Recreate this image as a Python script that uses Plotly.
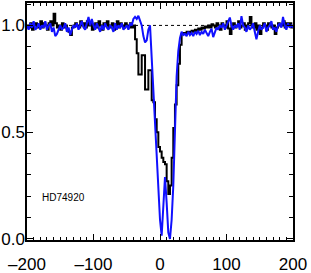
import plotly.graph_objects as go

# velocity grid (km/s), 2.5 km/s bins
velocity = [
    -200.0, -197.5, -195.0, -192.5, -190.0, -187.5, -185.0, -182.5, -180.0, -177.5,
    -175.0, -172.5, -170.0, -167.5, -165.0, -162.5, -160.0, -157.5, -155.0, -152.5,
    -150.0, -147.5, -145.0, -142.5, -140.0, -137.5, -135.0, -132.5, -130.0, -127.5,
    -125.0, -122.5, -120.0, -117.5, -115.0, -112.5, -110.0, -107.5, -105.0, -102.5,
    -100.0, -97.5, -95.0, -92.5, -90.0, -87.5, -85.0, -82.5, -80.0, -77.5,
    -75.0, -72.5, -70.0, -67.5, -65.0, -62.5, -60.0, -57.5, -55.0, -52.5,
    -50.0, -47.5, -45.0, -42.5, -40.0, -37.5, -35.0, -32.5, -30.0, -27.5,
    -25.0, -22.5, -20.0, -17.5, -15.0, -12.5, -10.0, -7.5, -5.0, -2.5,
    0.0, 2.5, 5.0, 7.5, 10.0, 12.5, 15.0, 17.5, 20.0, 22.5,
    25.0, 27.5, 30.0, 32.5, 35.0, 37.5, 40.0, 42.5, 45.0, 47.5,
    50.0, 52.5, 55.0, 57.5, 60.0, 62.5, 65.0, 67.5, 70.0, 72.5,
    75.0, 77.5, 80.0, 82.5, 85.0, 87.5, 90.0, 92.5, 95.0, 97.5,
    100.0, 102.5, 105.0, 107.5, 110.0, 112.5, 115.0, 117.5, 120.0, 122.5,
    125.0, 127.5, 130.0, 132.5, 135.0, 137.5, 140.0, 142.5, 145.0, 147.5,
    150.0, 152.5, 155.0, 157.5, 160.0, 162.5, 165.0, 167.5, 170.0, 172.5,
    175.0, 177.5, 180.0, 182.5, 185.0, 187.5, 190.0, 192.5, 195.0, 197.5,
    200.0,
]

# black (histogram-style) spectrum
flux_black = [
    1.00, 0.99, 1.01, 0.98, 1.00, 1.01, 0.99, 1.00, 1.02, 0.99,
    1.01, 1.00, 0.98, 1.01, 1.02, 1.00, 1.055, 1.01, 0.99, 1.00,
    0.98, 1.01, 0.99, 1.00, 0.98, 0.97, 0.955, 0.99, 1.00, 1.01,
    1.00, 0.99, 1.02, 1.00, 1.01, 0.99, 1.02, 1.00, 1.01, 0.98,
    1.00, 1.01, 0.99, 1.02, 1.00, 0.98, 1.01, 1.00, 1.02, 0.99,
    1.00, 1.01, 0.98, 1.00, 1.02, 0.99, 1.01, 1.00, 0.99, 1.01,
    1.00, 0.99, 1.01, 0.99, 1.00, 0.935, 0.87, 0.77, 0.77, 0.86,
    0.86, 0.70, 0.70, 0.79, 0.79, 0.65, 0.64, 0.56, 0.50, 0.43,
    0.41, 0.38, 0.36, 0.35, 0.27, 0.21, 0.25, 0.38, 0.52, 0.63,
    0.72, 0.82, 0.91, 0.96, 0.965, 0.965, 0.97, 0.965, 0.97, 0.975,
    0.97, 0.98, 0.975, 0.985, 0.98, 0.99, 0.985, 0.995, 0.99, 1.00,
    0.99, 1.005, 1.00, 0.99, 1.01, 1.00, 0.98, 1.01, 1.00, 0.99,
    1.02, 0.985, 0.96, 1.00, 1.01, 0.99, 1.00, 1.02, 0.99, 1.00,
    1.01, 0.98, 1.00, 1.01, 1.04, 1.00, 0.99, 1.01, 0.98, 1.00,
    0.96, 0.99, 1.01, 1.00, 0.98, 1.01, 1.00, 0.99, 1.00, 0.96,
    0.99, 1.01, 1.00, 1.00, 1.02, 0.99, 1.01, 1.00, 1.01, 0.99,
    1.00,
]

# blue spectrum
flux_blue = [
    1.00, 0.98, 1.01, 0.99, 1.02, 0.98, 0.99, 1.01, 0.98, 1.00,
    0.99, 1.02, 0.98, 1.00, 1.01, 0.97, 0.99, 0.95, 0.96, 0.98,
    1.00, 0.98, 0.99, 1.01, 0.97, 0.99, 0.955, 0.98, 1.00, 0.99,
    1.01, 0.98, 1.00, 1.02, 0.99, 0.98, 1.01, 1.04, 1.00, 1.03,
    1.00, 0.98, 1.01, 0.99, 0.97, 1.00, 0.98, 1.01, 0.99, 0.98,
    1.00, 0.99, 0.97, 1.01, 0.98, 1.00, 0.99, 1.01, 0.98, 0.99,
    1.00, 0.98, 1.01, 1.00, 1.03, 1.04, 1.03, 1.045, 1.02, 1.00,
    0.95, 0.92, 0.93, 0.98, 1.00, 0.84, 0.67, 0.56, 0.41, 0.25,
    0.09, 0.015, 0.15, 0.29, 0.17, 0.03, 0.0, 0.09, 0.25, 0.50,
    0.76, 0.88, 0.94, 0.97, 0.955, 0.96, 0.95, 0.97, 0.955, 0.965,
    0.95, 0.97, 0.96, 0.975, 0.955, 0.97, 0.96, 0.98, 0.965, 0.95,
    0.97, 0.985, 0.945, 0.97, 0.99, 0.98, 1.00, 0.99, 1.01, 0.98,
    1.00, 1.02, 1.037, 1.00, 0.98, 1.00, 0.99, 1.01, 0.98, 1.043,
    1.00, 0.99, 0.97, 1.00, 0.98, 0.99, 1.01, 0.97, 0.935, 0.97,
    1.00, 0.98, 0.99, 1.01, 0.97, 0.99, 1.00, 1.02, 0.98, 0.99,
    0.97, 1.00, 1.01, 0.99, 1.04, 1.00, 0.98, 1.01, 0.99, 1.00,
    0.99,
]

x_ticks = [-200, -100, 0, 100, 200]
x_ticklabels = ["\u2013200", "\u2013100", "0", "100", "200"]
y_ticks = [0.0, 0.5, 1.0]
y_ticklabels = ["0.0", "0.5", "1.0"]
continuum_level = 1.0
star_label = "HD74920"

fig = go.Figure()
fig.add_trace(go.Scatter(
    x=[velocity[0], velocity[-1]], y=[continuum_level, continuum_level],
    mode="lines", line=dict(color="black", width=1, dash="dot"),
    hoverinfo="skip", showlegend=False))
fig.add_trace(go.Scatter(
    x=velocity, y=flux_black, mode="lines", line_shape="hv",
    line=dict(color="black", width=2), showlegend=False))
fig.add_trace(go.Scatter(
    x=velocity, y=flux_blue, mode="lines",
    line=dict(color="#1010ff", width=2), showlegend=False))

fig.add_annotation(x=-180, y=0.196, xref="x", yref="y", text=star_label,
                   showarrow=False, xanchor="left", yanchor="middle",
                   font=dict(family="Liberation Sans", size=10, color="black"))

axis_common = dict(
    showline=True, linecolor="black", linewidth=1.5, mirror="allticks",
    ticks="inside", tickcolor="black", tickwidth=1, ticklen=6,
    showgrid=False, zeroline=False, automargin=False,
    tickfont=dict(family="Liberation Sans", size=17, color="black"),
)

fig.update_xaxes(range=[-200, 200], tickvals=x_ticks, ticktext=x_ticklabels,
                 ticklabelstandoff=8,
                 minor=dict(dtick=10, tick0=0, ticks="inside", ticklen=3,
                            tickcolor="black", tickwidth=1, showgrid=False),
                 **axis_common)
fig.update_yaxes(range=[-0.005, 1.105], tickvals=y_ticks, ticktext=y_ticklabels,
                 ticklabelstandoff=-3,
                 minor=dict(dtick=0.1, tick0=0, ticks="inside", ticklen=4,
                            tickcolor="black", tickwidth=1, showgrid=False),
                 **axis_common)

fig.update_layout(width=311, height=273,
                  margin=dict(l=27, r=18, t=3, b=33),
                  paper_bgcolor="white", plot_bgcolor="white",
                  showlegend=False)

fig.write_html("out.html", config={"displayModeBar": False},
               post_script="document.body.style.margin='0px';document.body.style.overflow='hidden';")
